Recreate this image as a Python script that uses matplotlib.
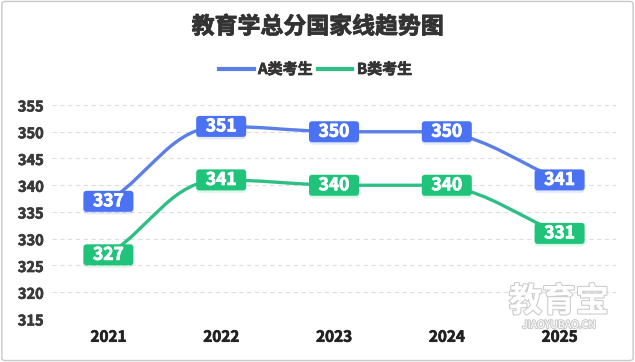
import numpy as np
import matplotlib
matplotlib.use('Agg')
import matplotlib.pyplot as plt
from matplotlib.path import Path
from matplotlib.patches import PathPatch, FancyBboxPatch
from matplotlib.transforms import ScaledTranslation
import matplotlib.patheffects as pe

plt.rcParams['font.family'] = ['Noto Sans CJK SC', 'DejaVu Sans']

years = ['2021', '2022', '2023', '2024', '2025']
scores_a = [337, 351, 350, 350, 341]
scores_b = [327, 341, 340, 340, 331]
series_names = ['A类考生', 'B类考生']
y_ticks = [315, 320, 325, 330, 335, 340, 345, 350, 355]

BLUE_LINE, BLUE_BOX = '#5b7fe6', '#4a72f2'
GREEN_LINE, GREEN_BOX = '#2fbf86', '#1fc47a'


def thick(color, w=0.5):
    # fake a heavier weight than the installed bold
    return [pe.withStroke(linewidth=w, foreground=color)]


def smooth_path(xs, ys, sx, sy, smooth=0.4):
    # echarts-like bezier smoothing, control points clamped so no overshoot
    px = np.asarray(xs, float) * sx
    py = np.asarray(ys, float) * sy
    n = len(px)
    cps = []
    for i in range(n):
        ip, inx = max(i - 1, 0), min(i + 1, n - 1)
        vx, vy = px[inx] - px[ip], py[inx] - py[ip]
        d0 = np.hypot(px[i] - px[ip], py[i] - py[ip])
        d1 = np.hypot(px[inx] - px[i], py[inx] - py[i])
        tot = d0 + d1 if d0 + d1 > 0 else 1
        c0 = [px[i] - vx * smooth * d0 / tot, py[i] - vy * smooth * d0 / tot]
        c1 = [px[i] + vx * smooth * d1 / tot, py[i] + vy * smooth * d1 / tot]
        c0[1] = np.clip(c0[1], min(py[i], py[ip]), max(py[i], py[ip]))
        c1[1] = np.clip(c1[1], min(py[i], py[inx]), max(py[i], py[inx]))
        if 0 < i < n - 1 and (py[i] - py[ip]) * (py[inx] - py[i]) < 0:
            c0[1] = c1[1] = py[i]
        cps.append((c0, c1))
    verts = [(px[0], py[0])]
    codes = [Path.MOVETO]
    for i in range(1, n):
        verts += [tuple(cps[i - 1][1]), tuple(cps[i][0]), (px[i], py[i])]
        codes += [Path.CURVE4] * 3
    verts = [(x / sx, y / sy) for x, y in verts]
    return Path(verts, codes)


fig = plt.figure(figsize=(6.35, 3.62), dpi=100)
ax = fig.add_axes([52 / 635, 43 / 362, 564 / 635, 214 / 362])
ax.set_xlim(-0.5, 4.5)
ax.set_ylim(315, 355)

x = np.arange(len(years))
for ys, lc, bc in [(scores_a, BLUE_LINE, BLUE_BOX), (scores_b, GREEN_LINE, GREEN_BOX)]:
    p = smooth_path(x, ys, 112.8, 5.35)
    ax.add_patch(PathPatch(p, facecolor='none', edgecolor=lc, lw=2.4,
                           capstyle='round', zorder=3))
    for xi, yi in zip(x, ys):
        tr = fig.dpi_scale_trans + ScaledTranslation(xi, yi, ax.transData)
        # soft shadow under the label
        ax.add_patch(FancyBboxPatch((-0.25, -0.13), 0.50, 0.21,
                                    boxstyle='round,pad=0,rounding_size=0.04',
                                    transform=tr, facecolor=bc, edgecolor='none',
                                    alpha=0.15, zorder=4))
        ax.add_patch(FancyBboxPatch((-0.25, -0.105), 0.50, 0.21,
                                    boxstyle='round,pad=0,rounding_size=0.03',
                                    transform=tr, facecolor=bc, edgecolor='none',
                                    zorder=5))
        ax.text(xi, yi, str(yi), ha='center', va='center', color='white',
                fontsize=12.5, fontweight='bold', zorder=6,
                path_effects=thick('white', 0.6))

ax.set_yticks(y_ticks)
ax.set_xticks(x)
ax.set_xticklabels(years)
ax.tick_params(length=0)
ax.tick_params(axis='y', pad=6, labelsize=10.5, labelcolor='#3a3a3a')
ax.tick_params(axis='x', pad=7, labelsize=11, labelcolor='#222222')
for lbl in ax.get_xticklabels() + ax.get_yticklabels():
    lbl.set_fontweight('bold')
    lbl.set_path_effects(thick(lbl.get_color(), 0.5))
ax.grid(axis='y', color='#dedede', lw=0.8, ls=(0, (4, 3)))
ax.set_axisbelow(True)
for s in ax.spines.values():
    s.set_visible(False)

fig.text(0.5, 1 - 27 / 362, '教育学总分国家线趋势图', ha='center', va='center',
         fontsize=16.5, fontweight='bold', color='#333333',
         path_effects=thick('#333333', 0.6))

handles = [plt.Line2D([], [], color=BLUE_LINE, lw=3),
           plt.Line2D([], [], color=GREEN_LINE, lw=3)]
leg = fig.legend(handles, series_names, loc='center', bbox_to_anchor=(0.497, 1 - 69 / 362),
                 ncol=2, frameon=False, handlelength=2.3, handletextpad=0.3,
                 columnspacing=0.35, prop={'weight': 'bold', 'size': 10.8},
                 labelcolor='#333333')
for t in leg.get_texts():
    t.set_path_effects(thick('#333333', 0.5))

# watermark
wm = [pe.withStroke(linewidth=1.6, foreground='#cdcdcd')]
fig.text(559 / 635, 1 - 302 / 362, '教育宝', ha='center', va='center',
         fontsize=24, fontweight='bold', color='white', path_effects=wm)
fig.text(559 / 635, 1 - 325 / 362, 'JIAOYUBAO.CN', ha='center', va='center',
         fontsize=7.5, color='white', path_effects=wm)

fig.patches.append(FancyBboxPatch((0.003, 0.004), 0.994, 0.992,
                                  boxstyle='round,pad=0,rounding_size=0.006',
                                  transform=fig.transFigure, facecolor='none',
                                  edgecolor='#c8c8c8', lw=1))

fig.savefig('out.png', dpi=100)
